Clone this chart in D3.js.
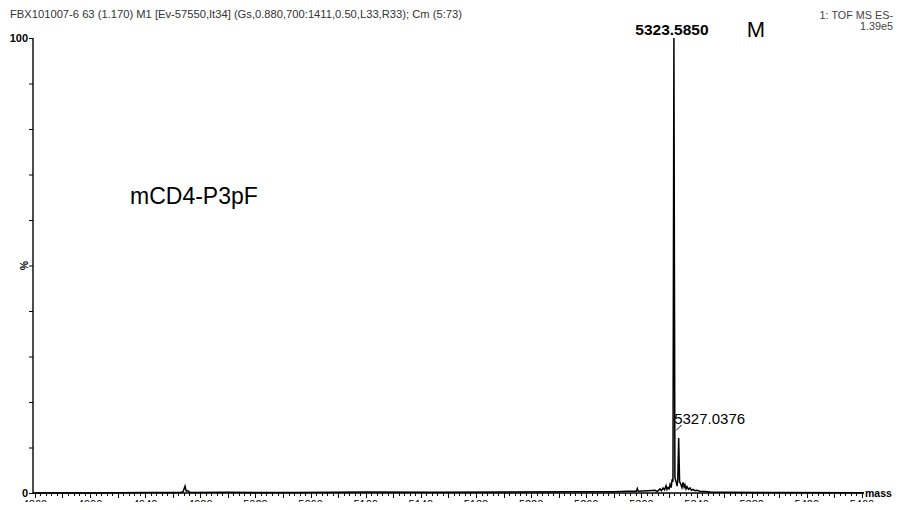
<!DOCTYPE html>
<html>
<head>
<meta charset="utf-8">
<script src="https://cdn.jsdelivr.net/npm/d3@7"></script>
<style>
  html, body { margin: 0; padding: 0; background: #fff; }
  svg { display: block; }
  text { font-family: "Liberation Sans", Arial, sans-serif; }
</style>
</head>
<body>
<svg id="chart" width="905" height="510"></svg>
<script>
// Deconvolved (MaxEnt) mass spectrum, intensity in % of base peak
const masses = [
  4858.6, 4900, 4940, 4965.5, 4967.5, 4968.9, 4969.8, 4971.0, 4972.5,
  5000, 5050, 5100, 5150, 5200, 5250, 5280, 5290,
  5296.3, 5297.0, 5297.7, 5305, 5309.9, 5311.5, 5313.5, 5314.5,
  5315.7, 5316.8, 5317.9, 5318.6, 5319.3, 5320.1, 5320.8, 5321.6,
  5322.3, 5322.9, 5323.585, 5324.3, 5325.2, 5325.9, 5326.4, 5327.0376,
  5327.7, 5328.7, 5329.4, 5330.2, 5331.0, 5331.6, 5332.4, 5333.1,
  5334.2, 5335.3, 5336.3, 5337.4, 5338.8, 5340.3, 5342.5, 5346.2,
  5350, 5360, 5400, 5461.5
];
const intensities = [
  0, 0, 0.1, 0.1, 0.3, 1.5, 0.4, 0.5, 0.1,
  0.15, 0.1, 0.2, 0.15, 0.2, 0.25, 0.3, 0.4,
  0.4, 1.0, 0.4, 0.5, 0.6, 0.3, 0.9, 0.5,
  1.1, 0.7, 1.6, 0.8, 1.2, 0.9, 1.9, 1.2,
  3.0, 2.5, 100, 3.5, 2.4, 1.5, 2.8, 12.1,
  2.5, 1.8, 1.2, 2.3, 1.3, 1.8, 0.9, 1.4,
  0.8, 1.1, 0.6, 0.8, 0.5, 0.6, 0.4, 0.35,
  0.2, 0.15, 0.1, 0.05
];

// Labelled peaks
const peakMasses = [5323.5850, 5327.0376];
const peakIntensities = [100, 12.1];

// Axis settings
const massDomain = [4858.6, 5461.5];
const massLabels = [4860, 4900, 4940, 4980, 5020, 5060, 5100, 5140, 5180, 5220, 5260, 5300, 5340, 5380, 5420, 5460];
const pctTicks = [0, 10, 20, 30, 40, 50, 60, 70, 80, 90, 100];

const headerText = "FBX101007-6  63 (1.170) M1 [Ev-57550,It34] (Gs,0.880,700:1411,0.50,L33,R33); Cm (5:73)";
const sampleName = "mCD4-P3pF";

const svg = d3.select("#chart");
svg.append("rect").attr("width", 905).attr("height", 510).attr("fill", "#fff");

const x = d3.scaleLinear().domain(massDomain).range([33, 864]);
const y = d3.scaleLinear().domain([0, 100]).range([493, 38]);

// Header lines
svg.append("text").attr("x", 10).attr("y", 17.5)
  .attr("font-size", 11.2).attr("fill", "#333").text(headerText);
svg.append("text").attr("x", 893).attr("y", 19).attr("text-anchor", "end")
  .attr("font-size", 10.8).attr("fill", "#444").text("1: TOF MS ES-");
svg.append("text").attr("x", 893).attr("y", 30).attr("text-anchor", "end")
  .attr("font-size", 10.8).attr("fill", "#444").text("1.39e5");

// Spectrum trace
const line = d3.line()
  .x((d, i) => x(masses[i]))
  .y((d, i) => y(intensities[i]));
svg.append("path")
  .datum(masses)
  .attr("d", line)
  .attr("fill", "none")
  .attr("stroke", "#000")
  .attr("stroke-width", 1.5)
  .attr("stroke-linejoin", "miter");

// Y axis
const yAxis = d3.axisLeft(y).tickValues(pctTicks).tickSize(4)
  .tickFormat(d => (d === 0 || d === 100) ? d : "");
const gy = svg.append("g").attr("transform", "translate(33,0)").call(yAxis);
gy.select(".domain").attr("stroke", "#000").attr("stroke-width", 1.4).attr("d", `M0,${y(100)}V${y(0)}`);
gy.selectAll(".tick line").attr("stroke", "#000").attr("stroke-width", 1);
gy.selectAll(".tick text").attr("font-family", "'Liberation Sans', Arial, sans-serif")
  .attr("font-size", 11).attr("font-weight", "bold").attr("fill", "#000").attr("dx", 2);
svg.append("text")
  .attr("transform", `translate(28,${y(50)}) rotate(-90)`)
  .attr("text-anchor", "middle").attr("font-size", 10.5).attr("font-weight", "bold")
  .text("%");

// X axis: minor ticks every 4 Da, longer every 20 Da, labels every 40 Da
const minorTicks = d3.range(4860, 5461, 4);
const gx = svg.append("g").attr("transform", `translate(0,${y(0)})`);
gx.append("path").attr("d", `M${x(massDomain[0])},0H${x(massDomain[1])}`)
  .attr("stroke", "#000").attr("stroke-width", 1.4).attr("fill", "none");
gx.selectAll("line.tk").data(minorTicks).join("line")
  .attr("class", "tk")
  .attr("x1", d => Math.round(x(d)) + 0.5).attr("x2", d => Math.round(x(d)) + 0.5)
  .attr("y1", 0).attr("y2", d => d % 20 === 0 ? 5 : 3)
  .attr("stroke", "#000").attr("stroke-width", 1);

// Tick labels sit partly below the plotting frame and are clipped at its edge
const defs = svg.append("defs");
defs.append("clipPath").attr("id", "frameClip")
  .append("rect").attr("x", 0).attr("y", 0).attr("width", 905).attr("height", 502);
svg.append("g").attr("clip-path", "url(#frameClip)")
  .selectAll("text").data(massLabels).join("text")
  .attr("x", d => x(d)).attr("y", 507.5).attr("text-anchor", "middle")
  .attr("font-size", 11).attr("fill", "#000").text(d => d);

svg.append("text").attr("x", 865).attr("y", 497).attr("font-size", 10.5)
  .attr("font-weight", "bold").text("mass");

// Peak annotations
svg.append("text").attr("x", x(peakMasses[0]) - 2).attr("y", y(peakIntensities[0]) - 3)
  .attr("text-anchor", "middle").attr("font-size", 15.5).attr("font-weight", "bold")
  .text(peakMasses[0].toFixed(4));
svg.append("text").attr("x", 756).attr("y", 37).attr("text-anchor", "middle")
  .attr("font-size", 22).text("M");

const p2x = x(peakMasses[1]), p2y = y(peakIntensities[1]);
svg.append("text").attr("x", p2x - 4.5).attr("y", p2y - 14)
  .attr("font-size", 15).text(peakMasses[1].toFixed(4));
svg.append("line")
  .attr("x1", p2x + 3).attr("y1", p2y - 13)
  .attr("x2", p2x - 2.5).attr("y2", p2y - 7.5)
  .attr("stroke", "#000").attr("stroke-width", 1);

// Sample name
svg.append("text").attr("x", 130).attr("y", 203.5).attr("font-size", 23)
  .text(sampleName);
</script>
</body>
</html>
